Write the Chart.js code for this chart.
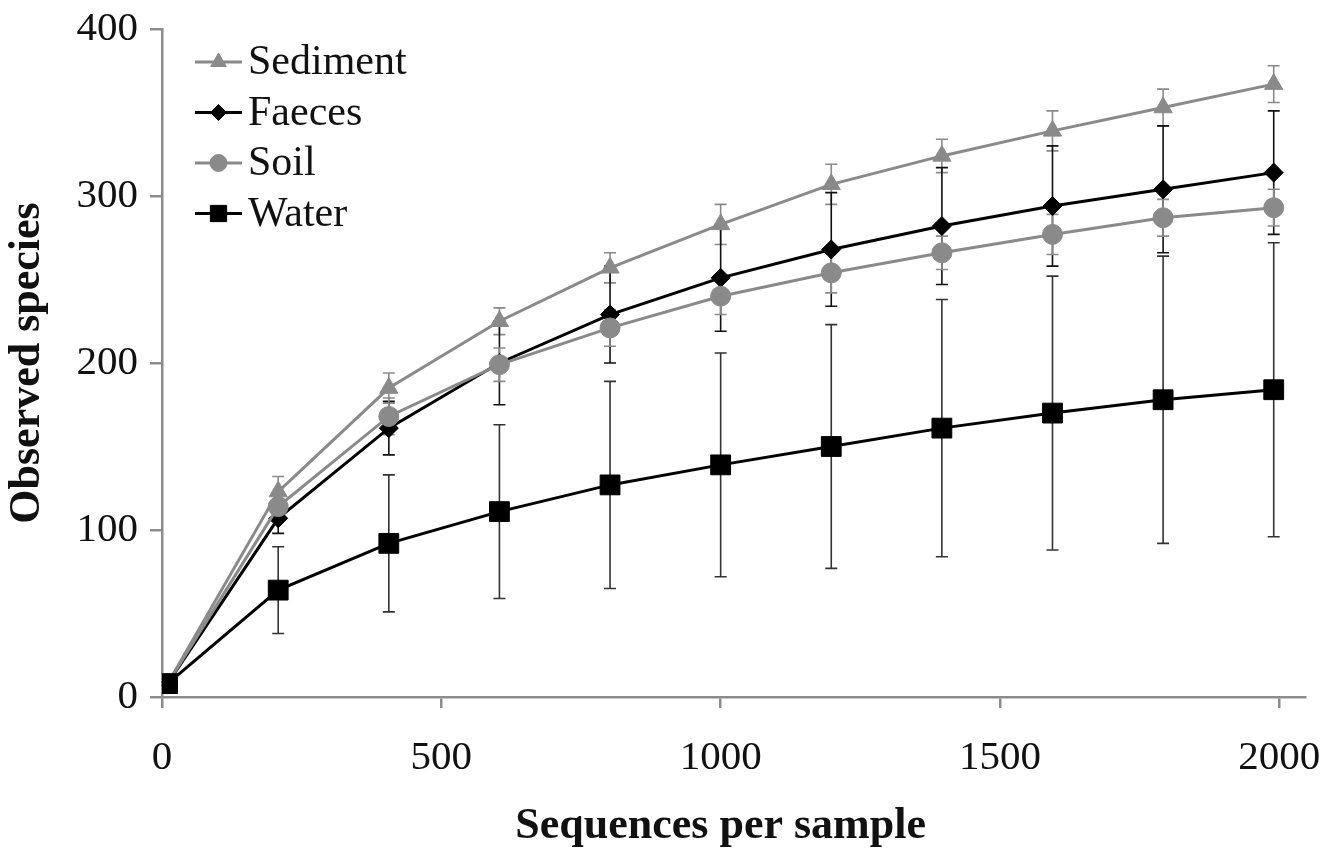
<!DOCTYPE html>
<html><head><meta charset="utf-8">
<script src="https://cdn.jsdelivr.net/npm/chart.js@4.4.1/dist/chart.umd.min.js"></script>
<style>html,body{margin:0;padding:0;background:#fff}canvas{display:block}</style>
</head><body>
<canvas id="c" width="1324" height="852" style="width:1324px;height:852px"></canvas>
<script>
// ---- data ----
const seqPerSample = [10, 208, 406, 604, 802, 1000, 1198, 1396, 1594, 1792, 1990];
const sedimentMean = [8, 123, 185, 225, 257, 283, 307, 324, 339, 353, 367];
const sedimentSD   = [1, 9, 9, 8, 9, 12, 12, 10, 12, 11, 11];
const faecesMean   = [8, 107, 161, 200, 229, 251, 268, 282, 294, 304, 314];
const faecesSD     = [1, 9, 16, 25, 29, 32, 34, 35, 36, 38, 37];
const soilMean     = [8, 114, 168, 199, 221, 240, 254, 266, 277, 287, 293];
const soilSD       = [1, 8, 11, 10, 11, 11, 12, 10, 12, 11, 11];
const waterMean    = [8, 64, 92, 111, 127, 139, 150, 161, 170, 178, 184];
const waterSD      = [1, 26, 41, 52, 62, 67, 73, 77, 82, 86, 88];
const xTickValues  = [0, 500, 1000, 1500, 2000];
const yTickValues  = [0, 100, 200, 300, 400];
const legendOrder  = ['Sediment', 'Faeces', 'Soil', 'Water'];
const xTitle = 'Sequences per sample';
const yTitle = 'Observed species';

const SERIF = '"Liberation Serif", "Times New Roman", serif';
const GREY = '#8a8a8a';
const AXIS = '#8c8c8c';

function pts(means) { return seqPerSample.map((x, i) => ({ x: x, y: means[i] })); }

const datasets = [
  { label: 'Sediment', data: pts(sedimentMean), sd: sedimentSD, borderColor: GREY, backgroundColor: GREY,
    pointStyle: 'triangle', pointRadius: 10.5, legendRadius: 9, errColor: GREY, order: 1 },
  { label: 'Faeces', data: pts(faecesMean), sd: faecesSD, borderColor: '#000', backgroundColor: '#000',
    pointStyle: 'rectRot', pointRadius: 9.5, legendRadius: 8, errColor: '#111', order: 3 },
  { label: 'Soil', data: pts(soilMean), sd: soilSD, borderColor: GREY, backgroundColor: GREY,
    pointStyle: 'circle', pointRadius: 10, legendRadius: 8.5, errColor: GREY, order: 2 },
  { label: 'Water', data: pts(waterMean), sd: waterSD, borderColor: '#000', backgroundColor: '#000',
    pointStyle: 'rect', pointRadius: 14, legendRadius: 11.5, errColor: '#333', order: 0 }
].map(d => Object.assign({ borderWidth: 3, pointBorderWidth: 1, pointHoverRadius: d.pointRadius, tension: 0 }, d));

const errorBars = {
  id: 'errorBars',
  beforeDatasetsDraw(chart) {
    const ctx = chart.ctx, xs = chart.scales.x, ys = chart.scales.y;
    ctx.save();
    chart.data.datasets.forEach(ds => {
      ctx.strokeStyle = ds.errColor;
      ctx.lineWidth = 1.6;
      ds.data.forEach((p, i) => {
        const px = xs.getPixelForValue(p.x);
        const t = ys.getPixelForValue(p.y + ds.sd[i]);
        const b = ys.getPixelForValue(p.y - ds.sd[i]);
        ctx.beginPath();
        ctx.moveTo(px, t); ctx.lineTo(px, b);
        ctx.moveTo(px - 6, t); ctx.lineTo(px + 6, t);
        ctx.moveTo(px - 6, b); ctx.lineTo(px + 6, b);
        ctx.stroke();
      });
    });
    ctx.restore();
  }
};

const customLegend = {
  id: 'customLegend',
  afterDraw(chart) {
    const ctx = chart.ctx;
    const x0 = 195, x1 = 242, tx = 248, y0 = 62, dy = 50.5;
    ctx.save();
    legendOrder.forEach((name, k) => {
      const ds = chart.data.datasets.find(d => d.label === name);
      const y = y0 + k * dy;
      ctx.strokeStyle = ds.borderColor;
      ctx.lineWidth = 3;
      ctx.beginPath(); ctx.moveTo(x0, y); ctx.lineTo(x1, y); ctx.stroke();
      ctx.fillStyle = ds.backgroundColor;
      ctx.strokeStyle = ds.borderColor;
      ctx.lineWidth = 1;
      Chart.helpers.drawPoint(ctx, { pointStyle: ds.pointStyle, radius: ds.legendRadius, rotation: 0, borderWidth: 1 }, (x0 + x1) / 2, y);
      ctx.fillStyle = '#111';
      ctx.font = '42px ' + SERIF;
      ctx.textAlign = 'left';
      ctx.textBaseline = 'middle';
      ctx.fillText(name, tx, y + 1);
    });
    ctx.restore();
  }
};

const xAxisTitle = {
  id: 'xAxisTitle',
  afterDraw(chart) {
    const ctx = chart.ctx, xs = chart.scales.x;
    const cx = (xs.getPixelForValue(xTickValues[0]) + xs.getPixelForValue(xTickValues[xTickValues.length - 1])) / 2;
    ctx.save();
    ctx.fillStyle = '#111';
    ctx.font = 'bold 44px ' + SERIF;
    ctx.textAlign = 'center';
    ctx.textBaseline = 'middle';
    ctx.fillText(xTitle, cx, 827);
    ctx.restore();
  }
};

new Chart(document.getElementById('c'), {
  type: 'line',
  data: { datasets: datasets },
  plugins: [errorBars, customLegend, xAxisTitle],
  options: {
    responsive: false,
    animation: false,
    devicePixelRatio: 1,
    layout: { padding: { top: 29, right: 19, left: 0, bottom: 0 } },
    plugins: { legend: { display: false }, tooltip: { enabled: false } },
    scales: {
      x: {
        type: 'linear', min: 0, max: 2046,
        afterBuildTicks: s => { s.ticks = xTickValues.map(v => ({ value: v })); },
        afterFit: s => { s.height = 155; s.paddingLeft = 0; s.paddingRight = 0; },
        ticks: { font: { size: 41, family: SERIF }, color: '#111', padding: 26, maxRotation: 0, autoSkip: false,
                 callback: v => String(v) },
        grid: { drawOnChartArea: false, drawTicks: true, tickLength: 11, color: AXIS, lineWidth: 2.5 },
        border: { display: true, color: AXIS, width: 2.5 }
      },
      y: {
        type: 'linear', min: 0, max: 400,
        afterBuildTicks: s => { s.ticks = yTickValues.map(v => ({ value: v })); },
        afterFit: s => { s.width = 162; s.paddingTop = 0; s.paddingBottom = 0; },
        ticks: { font: { size: 41, family: SERIF }, color: '#111', padding: 12, callback: v => String(v) },
        grid: { drawOnChartArea: false, drawTicks: true, tickLength: 12, color: AXIS, lineWidth: 2.5 },
        border: { display: true, color: AXIS, width: 2.5 },
        title: { display: true, text: yTitle, color: '#111', font: { size: 44, weight: 'bold', family: SERIF }, padding: { top: 1, bottom: 0 } }
      }
    }
  }
});
</script>
</body></html>
